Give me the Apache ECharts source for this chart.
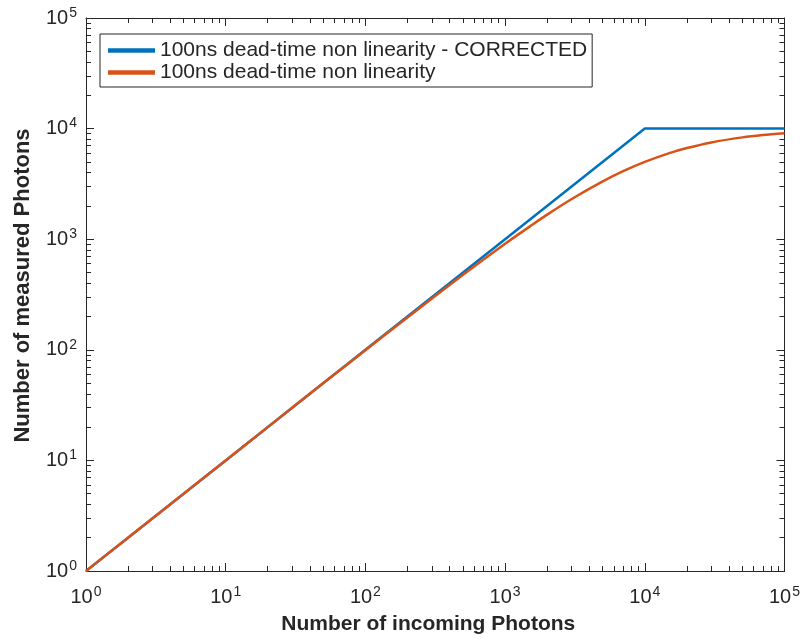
<!DOCTYPE html>
<html><head><meta charset="utf-8">
<script src="https://cdn.jsdelivr.net/npm/echarts@6/dist/echarts.min.js"></script>
<style>html,body{margin:0;padding:0;background:#fff}#c{width:803px;height:640px}</style>
</head><body><div id="c"></div>
<script>
// ---- data ----
const correctedX = [1, 10, 100, 1000, 10000, 100000];
const correctedY = [1, 10, 100, 1000, 10000, 10000];
const rawX = [1, 2, 5, 10, 20, 50, 100, 200, 500, 1000, 1500, 2000, 3000, 5000, 7000, 10000, 15000, 20000, 30000, 50000, 70000, 100000];
const rawY = [1, 2, 5, 10, 20, 50, 99, 196, 476, 909, 1300, 1667, 2310, 3330, 4120, 5000, 6000, 6670, 7500, 8330, 8750, 9090];
const seriesNames = ['100ns dead-time non linearity - CORRECTED', '100ns dead-time non linearity'];
const decadeLabels = [1, 10, 100, 1000, 10000, 100000];
const xName = 'Number of incoming Photons';
const yName = 'Number of measured Photons';

// tick positions (in decades) for decoration axes
const majorPos = decadeLabels.map(v => Math.log10(v));
const minorPos = [];
for (let d = 0; d < 5; d++) for (let m = 2; m <= 9; m++) minorPos.push(d + Math.log10(m));

const TXT = '#262626';
const font = 'Liberation Sans, Arial, Helvetica, sans-serif';
const supFmt = v => {
  const e = Math.round(Math.log10(v));
  return '{b|10}{s|' + e + '}';
};
const richLab = {
  b: { fontSize: 20, color: TXT, fontFamily: font },
  s: { fontSize: 14, color: TXT, fontFamily: font, padding: [0, 0, 10, 1] }
};

function decoAxis(pos, vals, len, showLine) {
  return {
    type: 'value', position: pos, min: 0, max: 5,
    axisLine: { show: showLine, onZero: false, lineStyle: { color: TXT, width: 1 } },
    axisTick: { show: true, inside: true, length: len, customValues: vals, lineStyle: { color: TXT, width: 1 } },
    axisLabel: { show: false }, splitLine: { show: false }, silent: true
  };
}

const chart = echarts.init(document.getElementById('c'), null, { renderer: 'canvas' });
chart.setOption({
  backgroundColor: '#fff',
  animation: false,
  grid: { left: 86, right: 16, top: 18, bottom: 69, containLabel: false },
  legend: {
    orient: 'vertical', left: 100, top: 34,
    itemWidth: 47, itemHeight: 12, itemGap: 1,
    padding: [6, 5, 4, 8],
    borderColor: TXT, borderWidth: 1, backgroundColor: '#fff',
    textStyle: { fontSize: 21, color: TXT, fontFamily: font },
    data: seriesNames.map(n => ({ name: n, icon: 'path://M0,0L1,0L1,0.1L0,0.1Z' }))
  },
  xAxis: [
    {
      type: 'log', logBase: 10, min: 1, max: 100000, position: 'bottom',
      axisLine: { show: true, onZero: false, lineStyle: { color: TXT, width: 1 } },
      axisTick: { show: false },
      splitLine: { show: false },
      axisLabel: { formatter: supFmt, rich: richLab, margin: 14, color: TXT },
      name: xName, nameLocation: 'middle', nameGap: 43,
      nameTextStyle: { fontSize: 21, fontWeight: 'bold', color: TXT, fontFamily: font, padding: [0, 14, 0, 0] }
    },
    decoAxis('bottom', majorPos, 8, false),
    decoAxis('bottom', minorPos, 5, false),
    decoAxis('top', majorPos, 8, true),
    decoAxis('top', minorPos, 5, false)
  ],
  yAxis: [
    {
      type: 'log', logBase: 10, min: 1, max: 100000, position: 'left',
      axisLine: { show: true, onZero: false, lineStyle: { color: TXT, width: 1 } },
      axisTick: { show: false },
      splitLine: { show: false },
      axisLabel: { formatter: supFmt, rich: richLab, margin: 9, color: TXT },
      name: yName, nameLocation: 'middle', nameGap: 52,
      nameTextStyle: { fontSize: 22, fontWeight: 'bold', color: TXT, fontFamily: font, padding: [0, 0, 0, 18] }
    },
    decoAxis('left', majorPos, 8, false),
    decoAxis('left', minorPos, 5, false),
    decoAxis('right', majorPos, 8, true),
    decoAxis('right', minorPos, 5, false)
  ],
  series: [
    {
      name: seriesNames[0], type: 'line', xAxisIndex: 0, yAxisIndex: 0,
      data: correctedX.map((x, i) => [x, correctedY[i]]),
      showSymbol: false, symbol: 'none', color: '#0072BD',
      lineStyle: { color: '#0072BD', width: 2.5 }, z: 2
    },
    {
      name: seriesNames[1], type: 'line', xAxisIndex: 0, yAxisIndex: 0, smooth: 0.3,
      data: rawX.map((x, i) => [x, rawY[i]]),
      showSymbol: false, symbol: 'none', color: '#D95319',
      lineStyle: { color: '#D95319', width: 2.5 }, z: 3
    }
  ]
});
</script></body></html>
